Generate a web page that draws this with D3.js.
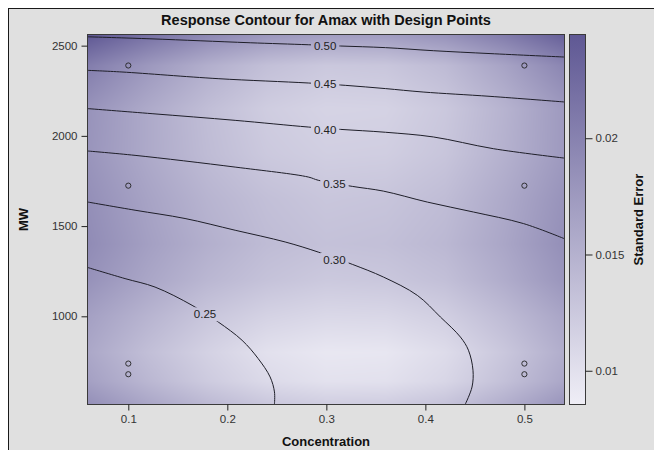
<!DOCTYPE html>
<html>
<head>
<meta charset="utf-8">
<script src="https://cdn.jsdelivr.net/npm/d3@7"></script>
<style>
  html, body { margin: 0; padding: 0; background: #ffffff; }
  svg { display: block; font-family: "Liberation Sans", Arial, Helvetica, sans-serif; }
</style>
</head>
<body>
<svg id="chart" width="654" height="450"></svg>
<script>
// ---- Design points (Concentration, MW) ----
const designConc = [0.1, 0.1, 0.1, 0.1, 0.5, 0.5, 0.5, 0.5];
const designMW   = [679, 738, 1724, 2390, 679, 738, 1724, 2390];

// ---- Axis ticks ----
const xTicks  = [0.1, 0.2, 0.3, 0.4, 0.5];
const yTicks  = [1000, 1500, 2000, 2500];
const seTicks = [0.01, 0.015, 0.02];

// ---- Standard error surface, sampled on a grid ----
const seGridConc = [0.06, 0.12, 0.18, 0.24, 0.30, 0.36, 0.42, 0.48, 0.54];
const seGridMW   = [518, 640, 800, 1000, 1200, 1400, 1650, 1900, 2150, 2390, 2559];
const seGrid = [
  [0.0185, 0.0161, 0.0141, 0.0126, 0.0119, 0.0120, 0.0130, 0.0152, 0.0179],
  [0.0168, 0.0144, 0.0123, 0.0107, 0.0099, 0.0100, 0.0111, 0.0134, 0.0161],
  [0.0160, 0.0136, 0.0116, 0.0100, 0.0093, 0.0094, 0.0105, 0.0127, 0.0154],
  [0.0168, 0.0147, 0.0128, 0.0115, 0.0109, 0.0110, 0.0119, 0.0139, 0.0163],
  [0.0183, 0.0162, 0.0144, 0.0132, 0.0125, 0.0127, 0.0135, 0.0155, 0.0179],
  [0.0190, 0.0169, 0.0152, 0.0139, 0.0133, 0.0135, 0.0143, 0.0162, 0.0186],
  [0.0186, 0.0165, 0.0147, 0.0135, 0.0128, 0.0130, 0.0138, 0.0158, 0.0182],
  [0.0180, 0.0158, 0.0139, 0.0125, 0.0119, 0.0120, 0.0129, 0.0150, 0.0175],
  [0.0182, 0.0158, 0.0137, 0.0121, 0.0114, 0.0115, 0.0126, 0.0148, 0.0175],
  [0.0205, 0.0177, 0.0153, 0.0135, 0.0126, 0.0128, 0.0140, 0.0165, 0.0196],
  [0.0244, 0.0217, 0.0194, 0.0178, 0.0171, 0.0172, 0.0183, 0.0206, 0.0236]
];

// ---- Response contours for Amax: [Concentration, MW] ----
const contour050 = [[0.0593, 2549], [0.1219, 2538], [0.1725, 2527], [0.2231, 2516], [0.2817, 2505],
  [0.3141, 2498], [0.3596, 2489], [0.4080, 2472], [0.4653, 2456], [0.54, 2437]];
const contour045 = [[0.0593, 2363], [0.0936, 2354], [0.1907, 2317], [0.2817, 2293], [0.3191, 2280],
  [0.3596, 2262], [0.3977, 2243], [0.4653, 2219], [0.54, 2188]];
const contour040 = [[0.0593, 2151], [0.1240, 2123], [0.2079, 2086], [0.2817, 2049], [0.3141, 2036],
  [0.3596, 2020], [0.4080, 1994], [0.4686, 1929], [0.54, 1877]];
const contour035 = [[0.0593, 1916], [0.1068, 1892], [0.2079, 1827], [0.2817, 1772], [0.2918, 1754],
  [0.3262, 1720], [0.3575, 1694], [0.4020, 1633], [0.4485, 1578], [0.4990, 1514], [0.54, 1431]];
const contour030 = [[0.0593, 1633], [0.1068, 1588], [0.1573, 1542], [0.2079, 1477], [0.2584, 1412],
  [0.2918, 1356], [0.3262, 1288], [0.3575, 1218], [0.3919, 1116], [0.4152, 996], [0.4354, 885],
  [0.4435, 812], [0.4481, 701], [0.4471, 608], [0.4404, 514]];
const contour025 = [[0.0593, 1270], [0.0967, 1209], [0.1270, 1162], [0.1644, 1061], [0.1907, 969],
  [0.2149, 867], [0.2311, 766], [0.2432, 664], [0.2476, 581], [0.2476, 514]];

const contourLines  = [contour050, contour045, contour040, contour035, contour030, contour025];
const contourText   = ["0.50", "0.45", "0.40", "0.35", "0.30", "0.25"];
const contourLabelX = [0.2988, 0.2988, 0.2988, 0.3082, 0.3082, 0.1775];
const contourLabelY = [2500, 2286, 2035, 1732, 1314, 1011];

// ---- Layout ----
const plot = { left: 88, right: 564, top: 35, bottom: 404 };
const bar  = { left: 570, right: 585 };

const svg = d3.select("#chart");

// Page frame
svg.append("rect").attr("x", 0).attr("y", 0).attr("width", 654).attr("height", 450).attr("fill", "#ffffff");
svg.append("rect").attr("x", 8.5).attr("y", 8.5).attr("width", 700).attr("height", 500)
  .attr("fill", "#e0e0e0").attr("stroke", "#1a1a1a").attr("stroke-width", 1);

const x = d3.scaleLinear().domain([0.0593, 0.54]).range([plot.left, plot.right]);
const y = d3.scaleLinear().domain([514, 2559]).range([plot.bottom, plot.top]);
const seExtent = [0.00857, 0.02444];
const color = d3.scaleLinear().domain(seExtent).range(["#efeef6", "#5f5894"]);

// Bilinear lookup in the standard error grid
function seAt(cx, my) {
  const cols = seGridConc, rows = seGridMW;
  const i = Math.max(0, Math.min(cols.length - 2, d3.bisectRight(cols, cx) - 1));
  const j = Math.max(0, Math.min(rows.length - 2, d3.bisectRight(rows, my) - 1));
  const tx = Math.max(0, Math.min(1, (cx - cols[i]) / (cols[i + 1] - cols[i])));
  const ty = Math.max(0, Math.min(1, (my - rows[j]) / (rows[j + 1] - rows[j])));
  const a = seGrid[j][i], b = seGrid[j][i + 1], c = seGrid[j + 1][i], d = seGrid[j + 1][i + 1];
  return (a * (1 - tx) + b * tx) * (1 - ty) + (c * (1 - tx) + d * tx) * ty;
}

// Paint the shaded standard error surface into a canvas
const pw = plot.right - plot.left, ph = plot.bottom - plot.top;
const canvas = document.createElement("canvas");
canvas.width = pw; canvas.height = ph;
const ctx = canvas.getContext("2d");
const img = ctx.createImageData(pw, ph);
for (let py = 0; py < ph; py++) {
  const my = y.invert(plot.top + py + 0.5);
  for (let px = 0; px < pw; px++) {
    const cx = x.invert(plot.left + px + 0.5);
    const c = d3.rgb(color(seAt(cx, my)));
    const k = (py * pw + px) * 4;
    img.data[k] = c.r; img.data[k + 1] = c.g; img.data[k + 2] = c.b; img.data[k + 3] = 255;
  }
}
ctx.putImageData(img, 0, 0);
svg.append("image").attr("x", plot.left).attr("y", plot.top)
  .attr("width", pw).attr("height", ph)
  .attr("preserveAspectRatio", "none")
  .attr("href", canvas.toDataURL());

// Clip and label mask for contour lines
const defs = svg.append("defs");
defs.append("clipPath").attr("id", "plotClip").append("rect")
  .attr("x", plot.left).attr("y", plot.top).attr("width", pw).attr("height", ph);

const labelFont = 11.5;
const mask = defs.append("mask").attr("id", "labelMask").attr("maskUnits", "userSpaceOnUse")
  .attr("x", 0).attr("y", 0).attr("width", 654).attr("height", 450);
mask.append("rect").attr("x", 0).attr("y", 0).attr("width", 654).attr("height", 450).attr("fill", "#fff");

const line = d3.line().x(d => x(d[0])).y(d => y(d[1])).curve(d3.curveCatmullRom.alpha(0.5));

const contourG = svg.append("g").attr("clip-path", "url(#plotClip)");
contourG.append("g").attr("mask", "url(#labelMask)")
  .selectAll("path").data(contourLines).join("path")
  .attr("d", line).attr("fill", "none").attr("stroke", "#1e1e28").attr("stroke-width", 1);

const labels = svg.append("g").selectAll("text").data(contourText).join("text")
  .attr("x", (d, i) => x(contourLabelX[i]))
  .attr("y", (d, i) => y(contourLabelY[i]))
  .attr("dy", "0.35em")
  .attr("text-anchor", "middle")
  .attr("font-size", labelFont)
  .attr("fill", "#222")
  .text(d => d);

labels.each(function () {
  const b = this.getBBox();
  mask.append("rect").attr("x", b.x - 3).attr("y", b.y - 1)
    .attr("width", b.width + 6).attr("height", b.height + 2).attr("fill", "#000");
});

// Design points
svg.append("g").selectAll("circle").data(designConc).join("circle")
  .attr("cx", d => x(d)).attr("cy", (d, i) => y(designMW[i]))
  .attr("r", 2.6).attr("fill", "none").attr("stroke", "#222").attr("stroke-width", 0.9);

// Plot frame
svg.append("rect").attr("x", plot.left - 0.5).attr("y", plot.top - 0.5)
  .attr("width", pw + 1).attr("height", ph + 1)
  .attr("fill", "none").attr("stroke", "#3a3a3a").attr("stroke-width", 1);

// Axes
const xAxis = d3.axisBottom(x).tickValues(xTicks).tickFormat(d3.format(".1f")).tickSizeOuter(0).tickSize(6).tickPadding(4);
const yAxis = d3.axisLeft(y).tickValues(yTicks).tickFormat(d3.format("d")).tickSizeOuter(0).tickSize(6).tickPadding(4);

const gx = svg.append("g").attr("transform", `translate(0,${plot.bottom + 0.5})`).call(xAxis);
const gy = svg.append("g").attr("transform", `translate(${plot.left - 0.5},0)`).call(yAxis);
[gx, gy].forEach(g => {
  g.select(".domain").remove();
  g.selectAll("line").attr("stroke", "#222");
  g.selectAll("text").attr("font-size", 11.5).attr("fill", "#333")
    .attr("font-family", "'Liberation Sans', Arial, sans-serif");
});

// Colour bar
const barY = d3.scaleLinear().domain(seExtent).range([plot.bottom, plot.top]);
const grad = defs.append("linearGradient").attr("id", "seGrad")
  .attr("x1", 0).attr("y1", 1).attr("x2", 0).attr("y2", 0);
grad.append("stop").attr("offset", 0).attr("stop-color", color(seExtent[0]));
grad.append("stop").attr("offset", 1).attr("stop-color", color(seExtent[1]));
svg.append("rect").attr("x", bar.left - 0.5).attr("y", plot.top - 0.5)
  .attr("width", bar.right - bar.left + 1).attr("height", ph + 1)
  .attr("fill", "url(#seGrad)").attr("stroke", "#3a3a3a").attr("stroke-width", 1);

const barAxis = d3.axisRight(barY).tickValues(seTicks).tickFormat(d => String(d)).tickSizeOuter(0).tickSize(7).tickPadding(3);
const gb = svg.append("g").attr("transform", `translate(${bar.right + 0.5},0)`).call(barAxis);
gb.select(".domain").remove();
gb.selectAll("line").attr("stroke", "#222");
gb.selectAll("text").attr("font-size", 11.5).attr("fill", "#333")
  .attr("font-family", "'Liberation Sans', Arial, sans-serif");

// Titles
svg.append("text").attr("x", 326).attr("y", 20).attr("dy", "0.35em")
  .attr("text-anchor", "middle").attr("font-size", 14.5).attr("font-weight", "bold").attr("fill", "#111")
  .text("Response Contour for Amax with Design Points");

svg.append("text").attr("x", (plot.left + plot.right) / 2).attr("y", 441).attr("dy", "0.35em")
  .attr("text-anchor", "middle").attr("font-size", 13).attr("font-weight", "bold").attr("fill", "#111")
  .text("Concentration");

svg.append("text").attr("transform", `translate(23,${(plot.top + plot.bottom) / 2}) rotate(-90)`)
  .attr("dy", "0.35em").attr("text-anchor", "middle").attr("font-size", 13).attr("font-weight", "bold").attr("fill", "#111")
  .text("MW");

svg.append("text").attr("transform", `translate(638,${(plot.top + plot.bottom) / 2}) rotate(-90)`)
  .attr("dy", "0.35em").attr("text-anchor", "middle").attr("font-size", 13).attr("font-weight", "bold").attr("fill", "#111")
  .text("Standard Error");
</script>
</body>
</html>
